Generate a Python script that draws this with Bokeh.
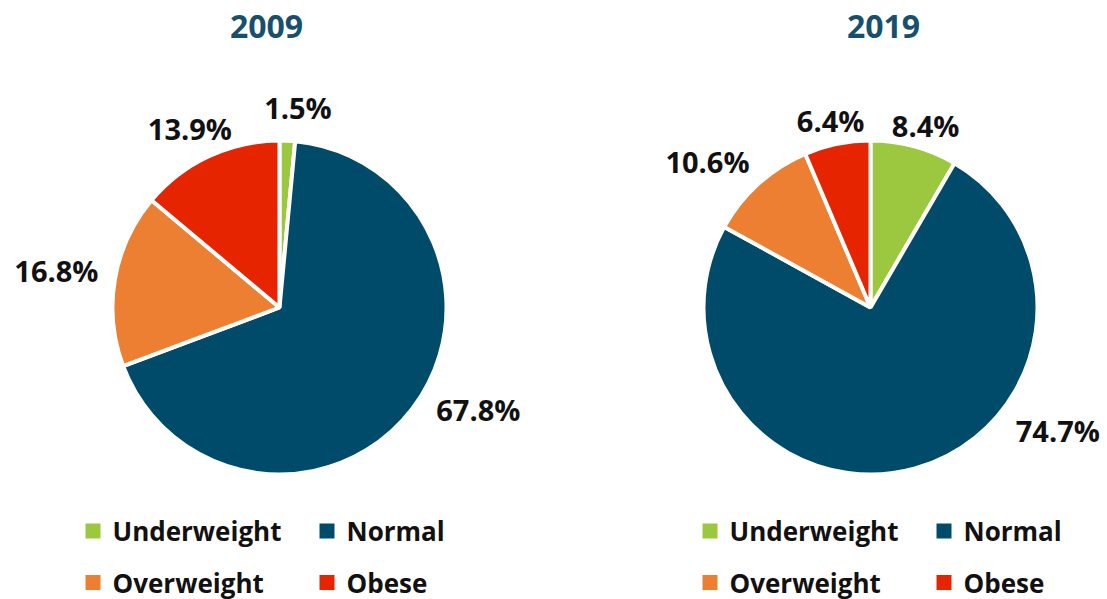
import math
from bokeh.plotting import figure
from bokeh.models import Range1d, ColumnDataSource
from bokeh.core.properties import value
from bokeh.embed import file_html
from bokeh.resources import INLINE

# ---------------- data ----------------
categories = ["Underweight", "Normal", "Overweight", "Obese"]
years = ["2009", "2019"]
values_2009 = [1.5, 67.8, 16.8, 13.9]
values_2019 = [8.4, 74.7, 10.6, 6.4]

# ---------------- style / layout ----------------
colors = ["#9BC83F", "#004A6A", "#ED7F33", "#E62400"]
title_color = "#17506F"
FONT = "Open Sans"
W, H, M = 1107, 599, 0
R = 167
centers = [(279, 307), (870, 307)]          # page px
title_x = [266, 883]
title_cy = 26
legend_x0 = [92.5, 709.5]
legend_col_dx = 234
legend_rows_sy = [530.5, 582]
label_dist = R + 33
label_nudge = [
    [(9, 0), (40, -20), (-26, -3), (-5, 2)],
    [(3, 11), (134, -70), (-29, 2), (0, 9)],
]
LABEL_SIZE = 29


def dx(sx):
    return sx - M


def dy(sy):
    return H - (sy - M)


p = figure(width=W, height=H, x_range=Range1d(0, W), y_range=Range1d(0, H),
           output_backend="svg", toolbar_location=None, min_border=0,
           x_axis_type=None, y_axis_type=None)
p.grid.visible = False
p.outline_line_color = None
p.background_fill_color = "white"
p.border_fill_color = "white"

for ci, (year, vals) in enumerate(zip(years, [values_2009, values_2019])):
    total = sum(vals)
    fr = [v / total for v in vals]
    cum = [sum(fr[:i]) for i in range(len(fr))]
    cx, cy = centers[ci]
    starts, ends, mids = [], [], []
    for c, f in zip(cum, fr):
        t0 = c * 2 * math.pi
        t1 = (c + f) * 2 * math.pi
        starts.append(math.pi / 2 - t1)
        ends.append(math.pi / 2 - t0)
        mids.append((t0 + t1) / 2)
    src = ColumnDataSource(dict(
        x=[dx(cx)] * len(vals), y=[dy(cy)] * len(vals),
        start=starts, end=ends, color=colors, cat=categories))
    p.wedge(x="x", y="y", radius=R, start_angle="start", end_angle="end",
            direction="anticlock", fill_color="color", line_color="white",
            line_width=4, source=src)

    # labels
    lx, ly, lt = [], [], []
    for i, (m, v) in enumerate(zip(mids, vals)):
        nx, ny = label_nudge[ci][i]
        sx = cx + label_dist * math.sin(m) + nx
        sy = cy - label_dist * math.cos(m) + ny
        lx.append(dx(sx))
        ly.append(dy(sy))
        lt.append(f"{v:.1f}%")
    p.text(x=lx, y=ly, text=lt, text_font=value(FONT), text_font_style="bold",
           text_font_size=f"{LABEL_SIZE}px", text_color="#111111",
           text_align="center", text_baseline="middle")

    # title
    p.text(x=[dx(title_x[ci])], y=[dy(title_cy)], text=[year], text_font=value(FONT),
           text_font_style="bold", text_font_size="32px", text_color=title_color,
           text_align="center", text_baseline="middle")

    # legend
    sqx, sqy, tx, ty = [], [], [], []
    for i, cat in enumerate(categories):
        row, col = divmod(i, 2)
        x0 = legend_x0[ci] + col * legend_col_dx
        sqx.append(dx(x0))
        sqy.append(dy(legend_rows_sy[row]))
        tx.append(dx(x0 + 19.5))
        ty.append(dy(legend_rows_sy[row]))
    p.rect(x=sqx, y=sqy, width=15, height=15, fill_color=colors, line_color=None)
    p.text(x=tx, y=ty, text=categories, text_font=value(FONT),
           text_font_style="bold", text_font_size="26px", text_color="#111111",
           text_align="left", text_baseline="middle")

open("out.html", "w").write(file_html(p, INLINE))
